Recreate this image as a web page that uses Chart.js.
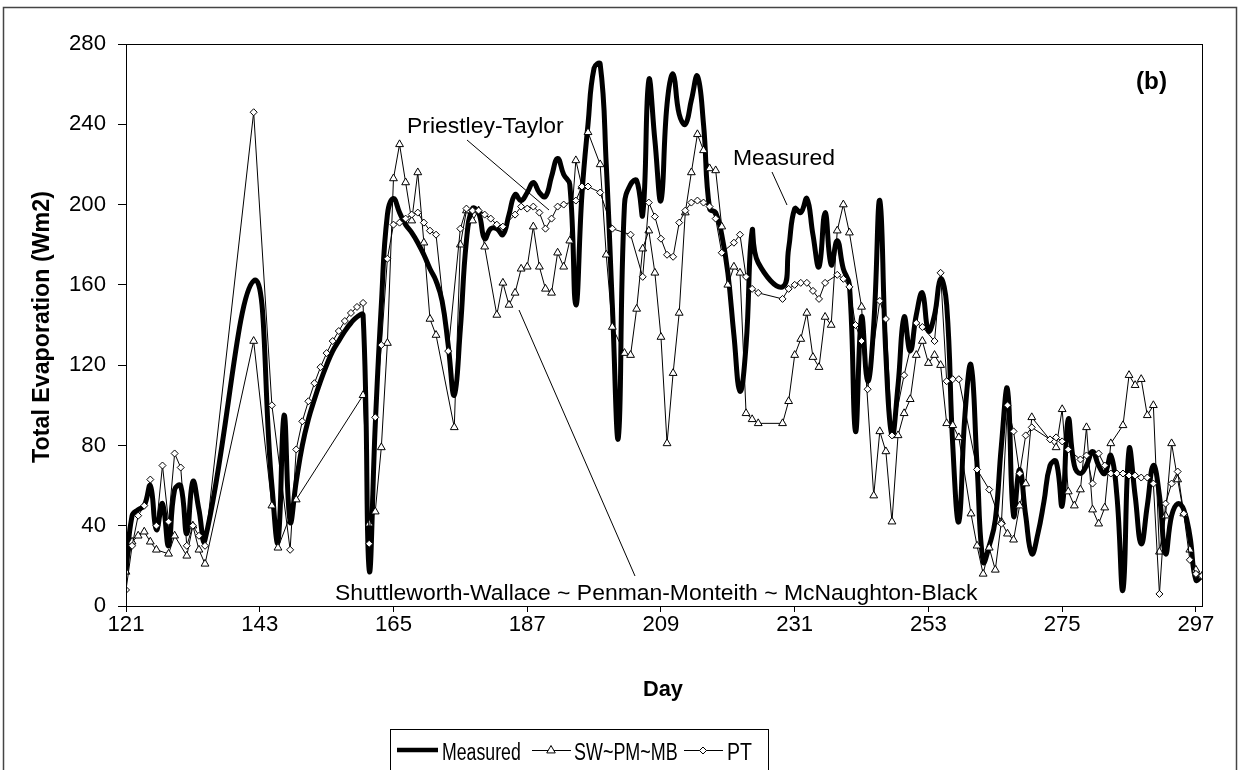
<!DOCTYPE html>
<html><head><meta charset="utf-8">
<script src="https://cdn.jsdelivr.net/npm/chart.js@4.4.1/dist/chart.umd.min.js"></script>
<style>
html,body{margin:0;padding:0;background:#fff;}
canvas{display:block;}
</style></head><body>
<canvas id="c" width="1241" height="770"></canvas>
<script>
// ---------------- data ----------------
const FIRST_DAY = 121, LAST_DAY = 298;
const days = [];
for (let d = FIRST_DAY; d <= LAST_DAY; d++) days.push(d);
const xTickLabels = [121, 143, 165, 187, 209, 231, 253, 275, 297];
const yTickLabels = [0, 40, 80, 120, 160, 200, 240, 280];
const seriesNames = ['Measured', 'SW~PM~MB', 'PT'];

const measured = [
  17, 45, 48, 50, 60, 38, 51, 30, 58, 60,            // 121-130
  36, 62, 48, 33, null, null, null, null, null, null, // 131-140
  null, 162, null, null, 60, 32, 95, 42, 62, 80,      // 141-150
  93, 103, 112, 120, 127, 132, 137, 141, 144, 145,    // 151-160
  18, 90, 150, 195, 203, 196, 190, 186, 181, 175,     // 161-170
  168, 162, 152, 130, 105, 138, 182, 198, 196, 183,   // 171-180
  188, 188, 185, 195, 205, 202, 206, 211, 206, 204,   // 181-190
  214, 223, 215, 210, 150, 205, 240, 268, 270, 220,   // 191-200
  150, 84, 200, 210, 212, 195, 262, 232, 202, 250,    // 201-210
  265, 245, 240, 252, 264, 240, 198, 196, 185, 166,   // 211-220
  135, 107, 130, 187, 171, null, null, null, 159, 178,// 221-230
  198, 196, 203, 185, 169, 196, 170, 182, 168, 160,   // 231-240
  87, 144, 112, 140, 202, 125, 85, 110, 144, 127,     // 241-250
  145, 156, 137, 145, 163, 150, 80, 42, 95, 120,      // 251-260
  70, 22, 30, 43, 80, 108, 45, 68, 45, 26,            // 261-270
  36, 52, 70, 72, 50, 93, 70, 66, 70, 77,             // 271-280
  70, 66, 75, 55, 8, 78, 55, 31, 50, 70,              // 281-290
  55, 26, 45, 51, 48, 35, 13, 15                      // 291-298
];
const swpmmb = [
  17, 32, 35, 37, 32, 28, null, 26, 35, null,
  25, 40, 28, 21, null, null, null, null, null, null,
  null, 132, null, null, 50, 29, null, null, 53, null,
  null, null, null, null, null, null, null, null, null, 105,
  41, 47, 79, 131, 213, 230, 211, 192, 216, 181,
  143, 135, null, null, 89, 180, 197, 192, 197, 179,
  null, 145, 161, 150, 156, 168, 169, 189, 169, 158,
  156, 176, 169, 182, 222, 209, 236, null, 220, 175,
  139, null, 126, 125, 148, 178, 187, 166, 134, 81,
  116, 146, 196, 216, 235, 227, 218, 217, 189, 160,
  169, 166, 96, 93, 91, null, null, null, 91, 102,
  125, 133, 146, 124, 119, 144, 140, 187, 200, 186,
  null, 149, null, 55, 87, 77, 42, 85, 96, 103,
  125, 132, 121, 125, 120, 91, 90, 84, null, 46,
  30, 16, 29, 18, 42, 36, 33, 50, 61, 94,
  null, null, null, 79, 98, 57, 50, 58, 89, 48,
  41, 49, 81, null, 90, 115, 110, 113, 95, 100,
  27, 45, 81, 63, 46, 28, 18, 15
];
const pt = [
  8, 30, 45, 50, 63, 40, 70, 42, 76, 69,
  30, 40, 35, 30, null, null, null, null, null, null,
  null, 246, null, null, 100, null, null, 28, 78, 92,
  102, 111, 119, 126, 132, 137, 142, 146, 149, 151,
  31, 94, 130, 173, 190, 191, 193, 195, 196, 191,
  187, 185, null, 127, null, 188, 198, 197, 197, 195,
  193, 190, 189, null, 195, 199, 198, 199, 196, 188,
  193, 199, 200, null, 202, 209, 209, null, 206, null,
  188, null, null, 185, null, 164, 201, 194, 183, 175,
  174, 191, 197, 201, 202, 201, 199, 193, 176, null,
  181, 185, 164, 158, 156, null, null, null, 153, 158,
  160, 161, 161, 157, 153, 161, null, 165, 163, 159,
  140, 132, 108, null, 152, 143, 85, null, 115, null,
  141, 139, null, 132, 166, 112, 113, 113, null, null,
  68, null, 58, null, 41, 100, 87, 66, 85, 89,
  null, null, 83, 84, 82, 78, null, 73, 75, 61,
  76, 70, 66, 66, 66, 65, 65, 64, 64, 61,
  6, 51, 61, 67, 46, 23, 16, 15
];

// ---------------- styling helpers ----------------
const FF = "'Liberation Sans', Arial, Helvetica, sans-serif";
const mctx = document.createElement('canvas').getContext('2d');
function fitSize(text, weight, target) {
  mctx.font = weight + ' 100px ' + FF;
  return 100 * target / mctx.measureText(text).width;
}
const tickSize = fitSize('280', 'normal', 37);
const annSize = fitSize('Measured', 'normal', 102);
const titleSize = fitSize('Day', 'bold', 40);
const yTitleSize = fitSize('Total Evaporation (Wm2)', 'bold', 272);

function pts(arr) { return days.map((d, i) => ({ x: d, y: arr[i] })); }

function drawTriangle(ctx, x, y, r) {
  ctx.beginPath();
  ctx.moveTo(x, y - r);
  ctx.lineTo(x + r * 0.95, y + r * 0.65);
  ctx.lineTo(x - r * 0.95, y + r * 0.65);
  ctx.closePath();
  ctx.fillStyle = '#fff'; ctx.fill();
  ctx.strokeStyle = '#000'; ctx.lineWidth = 1; ctx.stroke();
}
function drawDiamond(ctx, x, y, r) {
  ctx.beginPath();
  ctx.moveTo(x, y - r); ctx.lineTo(x + r, y); ctx.lineTo(x, y + r); ctx.lineTo(x - r, y);
  ctx.closePath();
  ctx.fillStyle = '#fff'; ctx.fill();
  ctx.strokeStyle = '#000'; ctx.lineWidth = 1; ctx.stroke();
}
function condensedText(ctx, text, x, y, size, factor) {
  ctx.save();
  ctx.font = 'normal ' + size + 'px ' + FF;
  ctx.translate(x, y);
  ctx.scale(factor, 1);
  ctx.textAlign = 'left'; ctx.textBaseline = 'alphabetic';
  ctx.fillText(text, 0, 0);
  ctx.restore();
}

const decor = {
  id: 'decor',
  beforeDraw(chart) {
    const c = chart.ctx;
    c.save(); c.fillStyle = '#fff'; c.fillRect(0, 0, chart.width, chart.height); c.restore();
  },
  afterDraw(chart) {
    const c = chart.ctx, a = chart.chartArea;
    c.save();
    // outer frame
    c.strokeStyle = '#444'; c.lineWidth = 1.5;
    c.strokeRect(3.5, 7.5, 1233, 775);
    // plot frame
    c.strokeStyle = '#000'; c.lineWidth = 1;
    c.strokeRect(Math.round(a.left) + 0.5, Math.round(a.top) + 0.5, Math.round(a.right - a.left), Math.round(a.bottom - a.top));

    c.fillStyle = '#000';
    // axis titles
    c.font = 'bold ' + titleSize + 'px ' + FF;
    c.textAlign = 'center'; c.textBaseline = 'middle';
    c.fillText('Day', 663, 690);
    c.save();
    c.font = 'bold ' + yTitleSize + 'px ' + FF;
    c.translate(43, 327); c.rotate(-Math.PI / 2);
    c.fillText('Total Evaporation (Wm2)', 0, 0);
    c.restore();

    // annotations
    c.textBaseline = 'alphabetic'; c.textAlign = 'left';
    c.font = 'normal ' + annSize + 'px ' + FF;
    c.fillText('Priestley-Taylor', 407, 133);
    c.fillText('Measured', 733, 165);
    c.fillText('Shuttleworth-Wallace ~ Penman-Monteith ~ McNaughton-Black', 335, 600);
    c.font = 'bold ' + fitSize('(b)', 'bold', 31) + 'px ' + FF;
    c.fillText('(b)', 1136, 89);

    c.lineWidth = 1; c.strokeStyle = '#000';
    c.beginPath();
    c.moveTo(467, 140); c.lineTo(549, 210);
    c.moveTo(772, 172); c.lineTo(787, 205);
    c.moveTo(519, 310); c.lineTo(635, 576);
    c.stroke();

    // legend
    c.strokeStyle = '#000'; c.lineWidth = 1;
    c.strokeRect(390.5, 729.5, 378, 60);
    c.lineWidth = 4.5; c.beginPath(); c.moveTo(397, 750); c.lineTo(438, 750); c.stroke();
    c.lineWidth = 1; c.beginPath(); c.moveTo(532, 750.5); c.lineTo(571, 750.5); c.stroke();
    drawTriangle(c, 551, 750, 4.5);
    c.beginPath(); c.moveTo(684, 750.5); c.lineTo(723, 750.5); c.stroke();
    drawDiamond(c, 703, 750.5, 3.5);
    c.fillStyle = '#000';
    condensedText(c, seriesNames[0], 442, 760, 23, 0.77);
    condensedText(c, seriesNames[1], 574, 760, 23, 0.78);
    condensedText(c, seriesNames[2], 727, 760, 23, 0.85);
    c.restore();
  }
};

new Chart(document.getElementById('c').getContext('2d'), {
  type: 'line',
  data: {
    datasets: [
      { label: seriesNames[0], data: pts(measured), borderColor: '#000', borderWidth: 5,
        pointRadius: 0, tension: 0.45, spanGaps: true, order: 3, fill: false },
      { label: seriesNames[1], data: pts(swpmmb), borderColor: '#000', borderWidth: 1,
        pointStyle: 'triangle', pointRadius: 4.5, pointBackgroundColor: '#fff',
        pointBorderColor: '#000', pointBorderWidth: 1, tension: 0, spanGaps: true, order: 2, fill: false },
      { label: seriesNames[2], data: pts(pt), borderColor: '#000', borderWidth: 1,
        pointStyle: 'rectRot', pointRadius: 3.5, pointBackgroundColor: '#fff',
        pointBorderColor: '#000', pointBorderWidth: 1, tension: 0, spanGaps: true, order: 1, fill: false }
    ]
  },
  options: {
    responsive: false, animation: false, devicePixelRatio: 1,
    layout: { padding: { left: 0, top: 44, right: 39, bottom: 104 } },
    plugins: { legend: { display: false }, tooltip: { enabled: false } },
    scales: {
      x: {
        type: 'linear', min: FIRST_DAY, max: LAST_DAY,
        afterBuildTicks: s => { s.ticks = xTickLabels.map(v => ({ value: v })); },
        afterFit: s => { s.height = 60; },
        grid: { drawOnChartArea: false, drawTicks: true, tickLength: 6, color: '#000' },
        border: { color: '#000', width: 1 },
        ticks: { font: { family: FF, size: tickSize }, color: '#000', padding: 0, maxRotation: 0, autoSkip: false }
      },
      y: {
        min: 0, max: 280,
        afterBuildTicks: s => { s.ticks = yTickLabels.map(v => ({ value: v })); },
        afterFit: s => { s.width = 126; },
        grid: { drawOnChartArea: false, drawTicks: true, tickLength: 8, color: '#000' },
        border: { color: '#000', width: 1 },
        ticks: { font: { family: FF, size: tickSize }, color: '#000', padding: 12 }
      }
    }
  },
  plugins: [decor]
});
</script>
</body></html>
